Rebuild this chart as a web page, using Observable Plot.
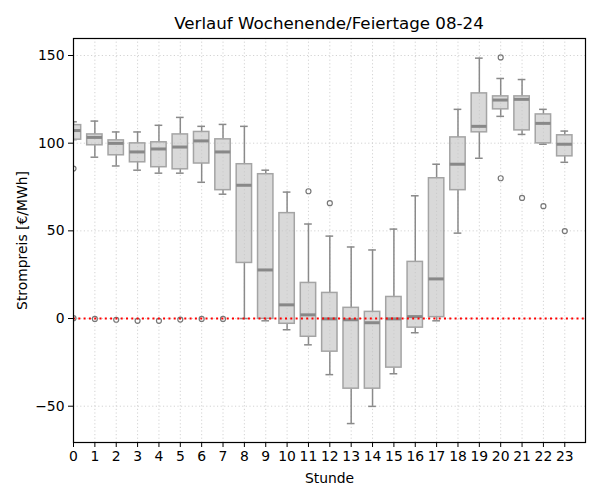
<!DOCTYPE html>
<html>
<head>
<meta charset="utf-8">
<script src="https://cdn.jsdelivr.net/npm/d3@7"></script>
<script src="https://cdn.jsdelivr.net/npm/@observablehq/plot@0.6"></script>
<style>
  body { margin: 0; background: #fff; font-family: "DejaVu Sans", sans-serif; }
  #title { width: 600px; height: 30px; box-sizing: border-box; padding-left: 58px; text-align: center;
           font-size: 16.7px; line-height: 16px; padding-top: 15px; color: #000; }
</style>
</head>
<body>
<div id="title">Verlauf Wochenende/Feiertage 08-24</div>
<div id="chart"></div>
<script>
const hours = d3.range(0, 24);
const whiskerLo = [102.0, 92.0, 87.0, 84.6, 82.9, 82.9, 77.7, 70.9, 0.0, -1.3, -6.4, -15.0, -32.0, -59.9, -50.1, -31.5, -8.1, -1.3, 48.7, 91.4, 115.3, 105.0, 99.4, 89.1];
const q1 = [102.0, 98.8, 93.1, 89.1, 86.3, 85.1, 88.4, 73.2, 31.7, -0.2, -3.0, -10.4, -18.9, -40.0, -40.0, -28.0, -5.2, 0.8, 73.2, 106.2, 119.3, 107.3, 99.9, 92.5];
const median = [107.2, 103.3, 99.9, 95.0, 96.7, 97.8, 101.3, 95.0, 76.0, 27.7, 7.8, 2.1, -0.2, -0.7, -2.4, -0.2, 1.1, 22.6, 88.0, 109.6, 124.6, 125.0, 111.3, 99.4];
const q3 = [110.3, 105.0, 101.6, 99.9, 100.5, 105.0, 106.4, 102.2, 88.0, 82.3, 60.1, 20.3, 14.6, 6.1, 3.8, 12.3, 32.3, 80.0, 103.3, 128.4, 126.7, 126.7, 116.4, 104.5];
const whiskerHi = [112.2, 112.6, 106.4, 106.4, 110.2, 114.7, 109.6, 110.7, 109.6, 84.6, 72.1, 53.9, 47.0, 40.8, 39.1, 51.0, 70.0, 88.0, 119.3, 148.5, 136.9, 136.3, 119.3, 106.9];
const outlierHour = [0, 0, 1, 2, 3, 4, 5, 6, 7, 11, 12, 20, 20, 21, 22, 23];
const outlierValue = [85.5, 0.2, -0.2, -0.7, -1.3, -1.3, -0.6, -0.2, -0.2, 72.6, 65.8, 148.9, 80.0, 68.8, 64.1, 49.9];
const yTicks = [-50, 0, 50, 100, 150];

const boxes = hours.map((h, i) => ({hour: h, lo: whiskerLo[i], q1: q1[i], med: median[i], q3: q3[i], hi: whiskerHi[i]}));
const outliers = outlierHour.map((h, i) => ({hour: h, value: outlierValue[i]}));

const halfBox = 0.36, halfCap = 0.18;
const grid = {stroke: "#c8c8c8", strokeOpacity: 1, strokeDasharray: "1.2,2.4", strokeWidth: 0.8};

const chart = Plot.plot({
  width: 600,
  height: 470,
  marginTop: 8,
  marginLeft: 73,
  marginRight: 15,
  marginBottom: 28 + 30,
  style: {fontFamily: "DejaVu Sans, sans-serif", fontSize: "13.9px", color: "#000", background: "#fff"},
  x: {domain: [0, 23.97]},
  y: {domain: [-70.7, 159.7]},
  marks: [
    Plot.gridX(hours, grid),
    Plot.gridY(yTicks, grid),
    Plot.ruleX(boxes, {x: "hour", y1: "lo", y2: "q1", stroke: "#8a8a8a", strokeWidth: 1.5, clip: true}),
    Plot.ruleX(boxes, {x: "hour", y1: "q3", y2: "hi", stroke: "#8a8a8a", strokeWidth: 1.5, clip: true}),
    Plot.ruleY(boxes, {y: "lo", x1: d => d.hour - halfCap, x2: d => d.hour + halfCap, stroke: "#8a8a8a", strokeWidth: 1.5, clip: true}),
    Plot.ruleY(boxes, {y: "hi", x1: d => d.hour - halfCap, x2: d => d.hour + halfCap, stroke: "#8a8a8a", strokeWidth: 1.5, clip: true}),
    Plot.rect(boxes, {x1: d => d.hour - halfBox, x2: d => d.hour + halfBox, y1: "q1", y2: "q3",
      fill: "#c4c4c4", fillOpacity: 0.65, stroke: "#a4a4a4", strokeWidth: 1.5, clip: true}),
    Plot.ruleY(boxes, {y: "med", x1: d => d.hour - halfBox, x2: d => d.hour + halfBox, stroke: "#888888", strokeWidth: 3, clip: true}),
    Plot.dot(outliers, {x: "hour", y: "value", r: 2.5, stroke: "#777", strokeWidth: 1.2, fill: "none", clip: true}),
    Plot.ruleY([0], {stroke: "#ff0000", strokeWidth: 2, strokeDasharray: "2,3.3"}),
    Plot.frame({stroke: "#000", strokeWidth: 1.2}),
    Plot.axisX(hours, {tickSize: 5, tickPadding: 4, tickFormat: d => String(d), label: "Stunde",
      labelAnchor: "center", labelOffset: 40, labelArrow: "none", stroke: "#000"}),
    Plot.axisY(yTicks, {tickSize: 5, tickPadding: 4, label: "Strompreis [€/MWh]",
      labelAnchor: "center", labelOffset: 56, labelArrow: "none", stroke: "#000"})
  ]
});
document.getElementById("chart").appendChild(chart);
</script>
</body>
</html>
